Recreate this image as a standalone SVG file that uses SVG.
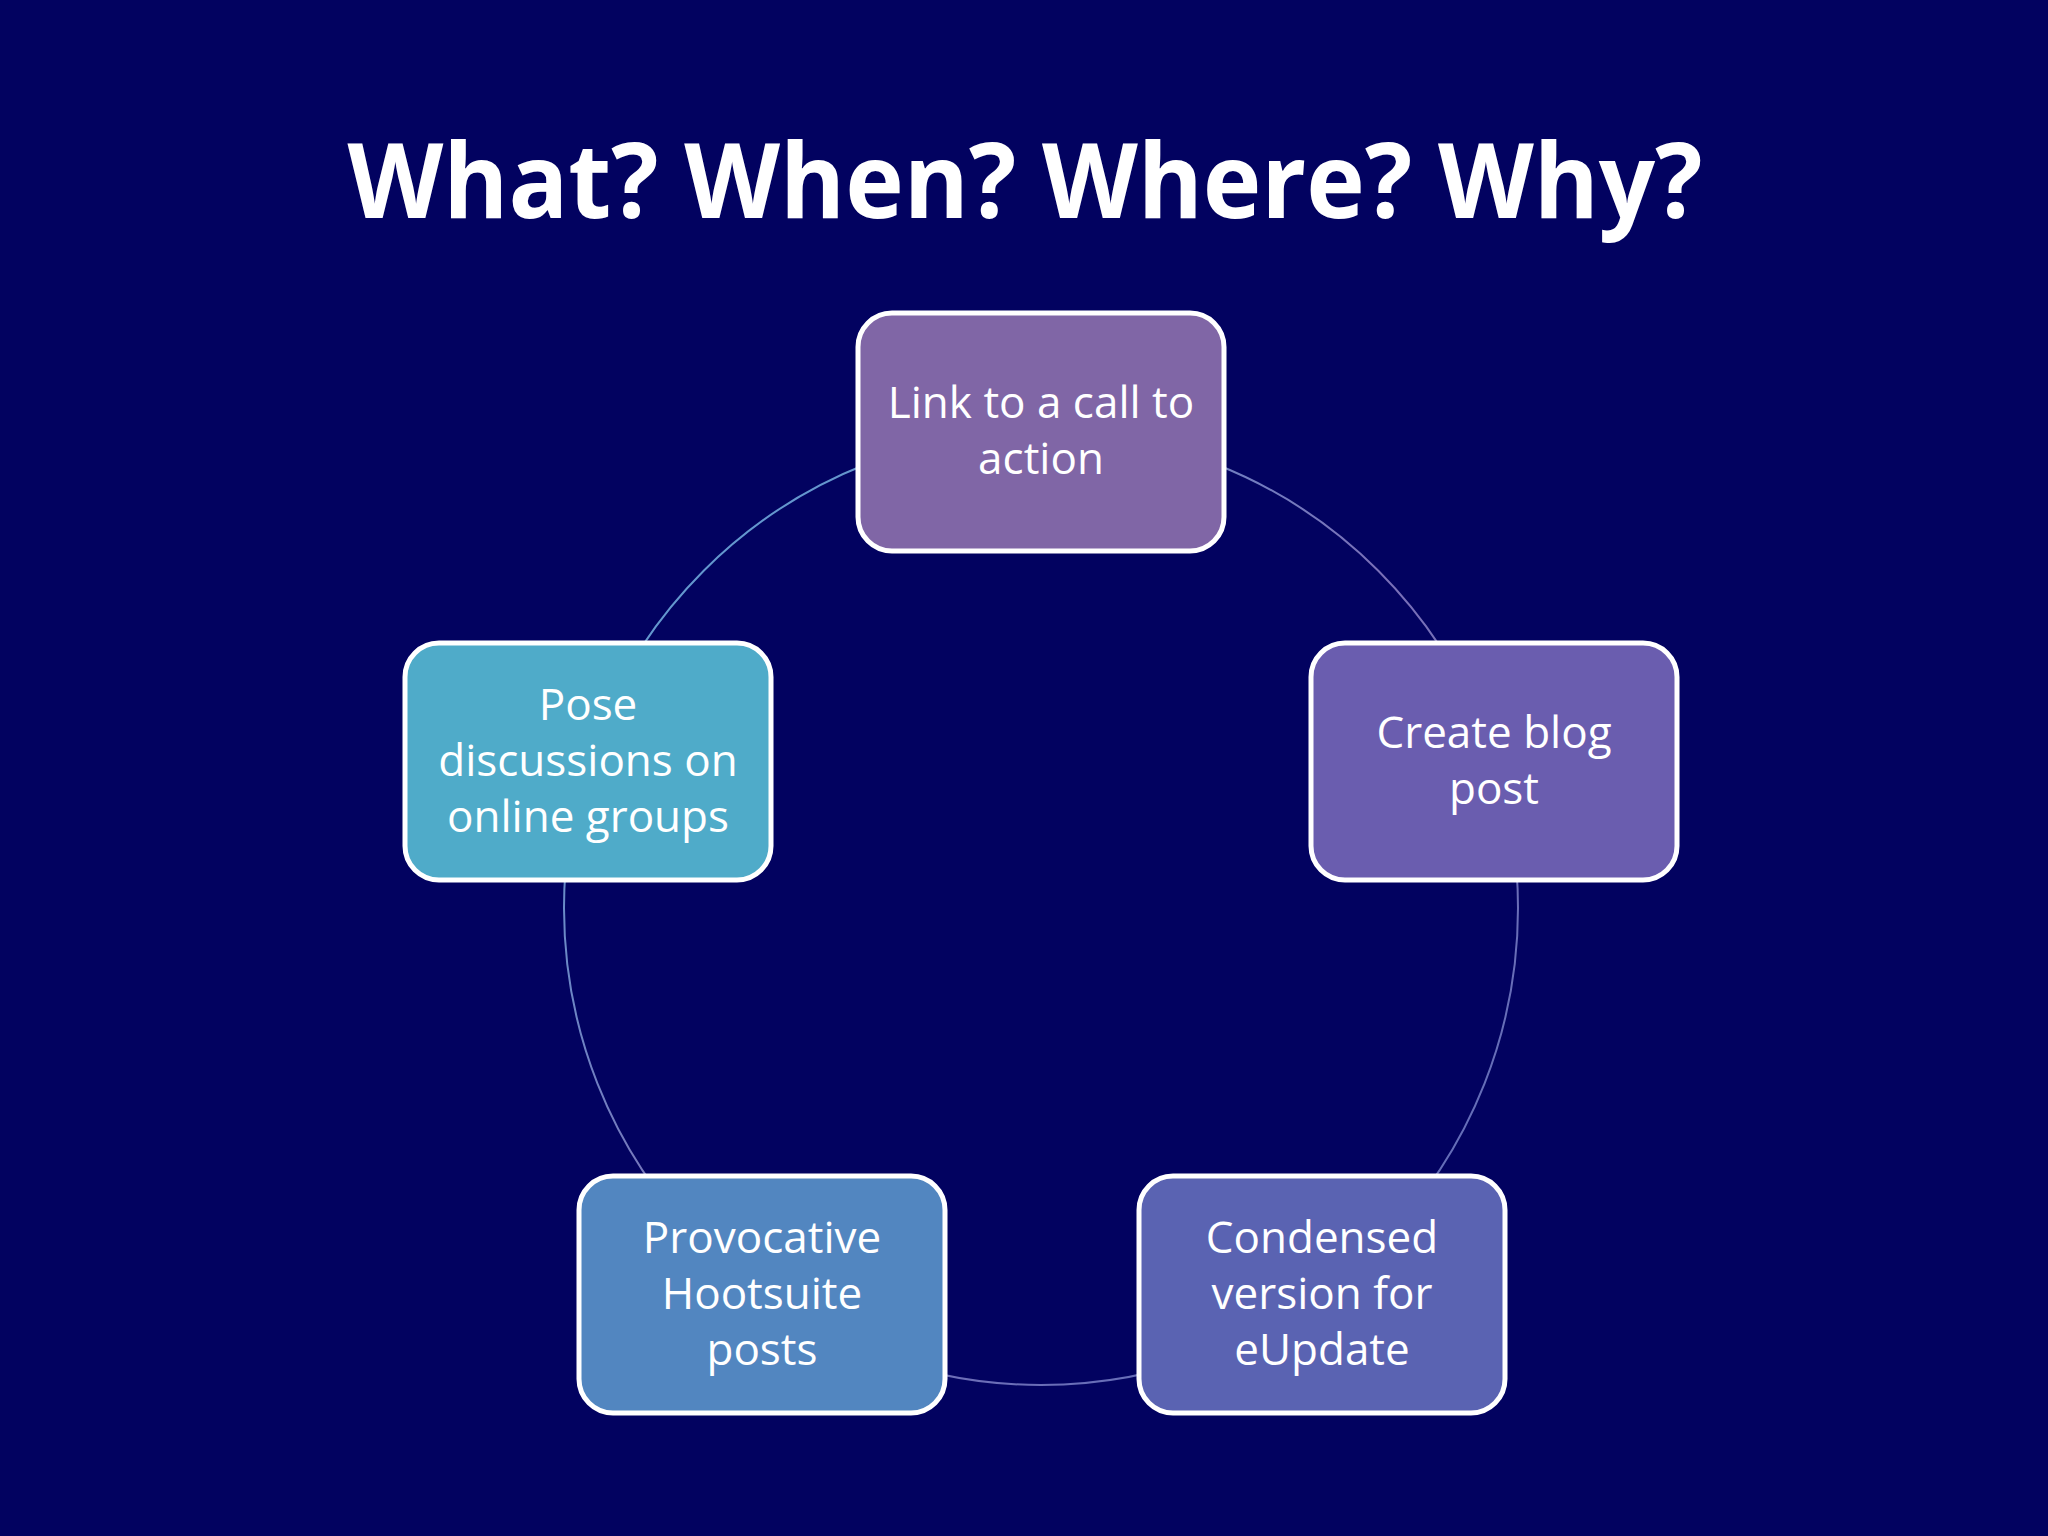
<svg xmlns="http://www.w3.org/2000/svg" width="2048" height="1536" viewBox="0 0 2048 1536">
<defs>
<linearGradient id="cg" x1="0" y1="0" x2="1" y2="1">
<stop offset="0" stop-color="#5aa8d8"/><stop offset="0.5" stop-color="#7a70b8"/><stop offset="1" stop-color="#5a6cb8"/>
</linearGradient>
</defs>
<style>
.box{stroke:#fff;stroke-width:5}
.t{font-family:"Open Sans","Noto Sans",sans-serif;font-size:44px;fill:#fff;text-anchor:middle}
</style>
<rect width="2048" height="1536" fill="#020260"/>
<text x="1025" y="218" font-family="'Open Sans','Noto Sans',sans-serif" font-weight="bold" font-size="104" fill="#fff" text-anchor="middle" textLength="1355" lengthAdjust="spacingAndGlyphs">What? When? Where? Why?</text>
<g id="connectors">
<circle cx="1041" cy="908" r="477" fill="none" stroke="url(#cg)" stroke-width="2"/>
</g>
<g id="n1"><rect class="box" x="858" y="313" width="366" height="238" rx="34" fill="#8066a6"/>
<text class="t" x="1041" y="418">Link to a call to</text><text class="t" x="1041" y="474">action</text></g>
<g id="n2"><rect class="box" x="1311" y="643" width="366" height="237" rx="34" fill="#6a5daf"/>
<text class="t" x="1494" y="748">Create blog</text><text class="t" x="1494" y="804">post</text></g>
<g id="n3"><rect class="box" x="1139" y="1176" width="366" height="237" rx="34" fill="#5a63b2"/>
<text class="t" x="1322" y="1253">Condensed</text><text class="t" x="1322" y="1309">version for</text><text class="t" x="1322" y="1365">eUpdate</text></g>
<g id="n4"><rect class="box" x="579" y="1176" width="366" height="237" rx="34" fill="#5286c0"/>
<text class="t" x="762" y="1253">Provocative</text><text class="t" x="762" y="1309">Hootsuite</text><text class="t" x="762" y="1365">posts</text></g>
<g id="n5"><rect class="box" x="405" y="643" width="366" height="237" rx="34" fill="#4fabc9"/>
<text class="t" x="588" y="720">Pose</text><text class="t" x="588" y="776">discussions on</text><text class="t" x="588" y="832">online groups</text></g>
</svg>
